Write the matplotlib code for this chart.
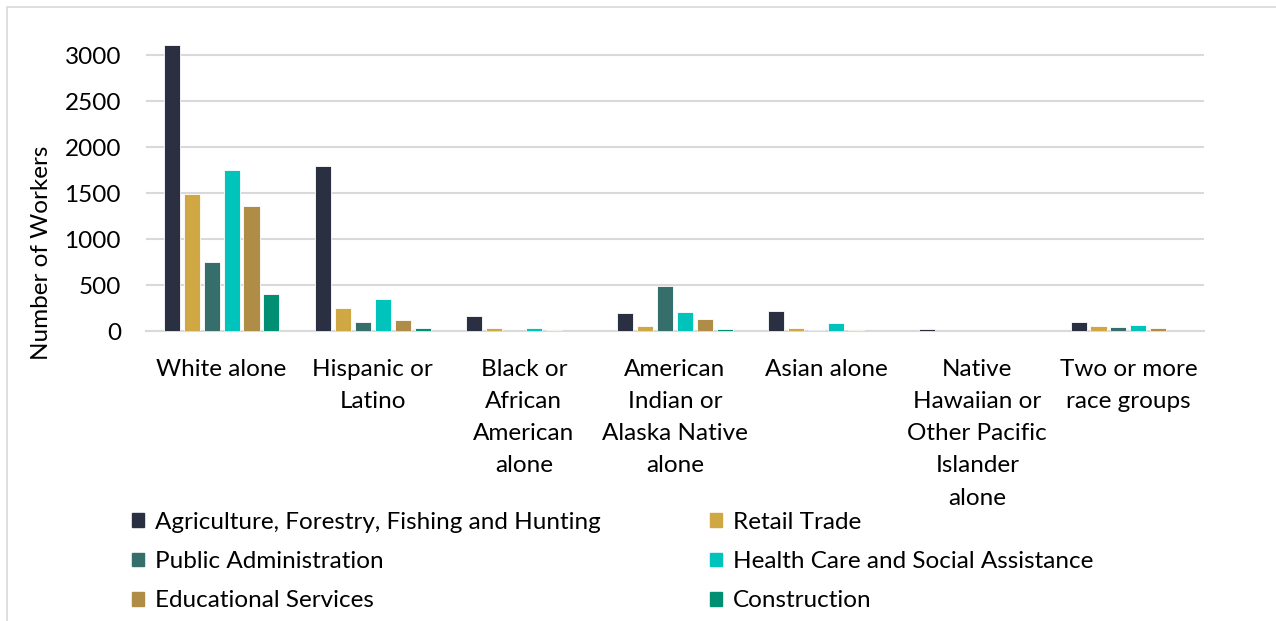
import matplotlib
matplotlib.use("Agg")
import matplotlib.pyplot as plt
import numpy as np
from matplotlib.patches import Rectangle, Patch

plt.rcParams['font.family'] = ['Lato', 'DejaVu Sans']

categories = ["White alone", "Hispanic or\nLatino", "Black or\nAfrican\nAmerican\nalone",
              "American\nIndian or\nAlaska Native\nalone", "Asian alone",
              "Native\nHawaiian or\nOther Pacific\nIslander\nalone", "Two or more\nrace groups"]
series_names = ["Agriculture, Forestry, Fishing and Hunting", "Retail Trade",
                "Public Administration", "Health Care and Social Assistance",
                "Educational Services", "Construction"]
agriculture = [3110, 1800, 167, 200, 218, 20, 100]
retail = [1490, 253, 30, 55, 38, 0, 53]
public_admin = [750, 100, 0, 490, 8, 0, 47]
health = [1750, 345, 37, 210, 85, 2, 70]
education = [1360, 125, 8, 128, 13, 0, 30]
construction = [400, 33, 0, 22, 2, 0, 0]
colors = ["#2B2F42", "#D0A843", "#356E6A", "#00C4BC", "#B08D47", "#008F73"]
yticks = [0, 500, 1000, 1500, 2000, 2500, 3000]

data = [agriculture, retail, public_admin, health, education, construction]
FS = 17.5

fig = plt.figure(figsize=(12.76, 6.21), dpi=100)
ax = fig.add_axes([146/1276, 1-331/621, (1204-146)/1276, (331-37)/621])

x = np.arange(len(categories))
slot = 0.132
width = 0.106
for i, (vals, c) in enumerate(zip(data, colors)):
    ax.bar(x + (i - 2.5) * slot, vals, width=width, color=c, edgecolor="white",
           linewidth=0.6, zorder=3)

ax.set_xlim(-0.5, len(categories) - 0.5)
ax.set_ylim(0, 3200)
ax.set_yticks(yticks)
ax.set_yticklabels([str(t) for t in yticks], fontsize=FS)
ax.set_xticks(x)
ax.set_xticklabels(categories, fontsize=FS, linespacing=1.66, va="top")
ax.tick_params(axis='both', length=0, colors="#000000")
ax.tick_params(axis='x', pad=20)
ax.tick_params(axis='y', pad=18)
ax.grid(axis='y', color="#D9D9D9", linewidth=1.5, zorder=0)
for s in ["top", "right", "left"]:
    ax.spines[s].set_visible(False)
ax.spines["bottom"].set_color("#D9D9D9")
ax.spines["bottom"].set_linewidth(1.5)
ax.set_ylabel("Number of Workers", fontsize=FS, va="center")
ax.yaxis.set_label_coords((42 - 146) / 1058, (331 - 253) / 294)

order = [0, 2, 4, 1, 3, 5]
handles = [Patch(facecolor=colors[i], edgecolor=colors[i]) for i in order]
labels = [series_names[i] for i in order]
fig.legend(handles, labels, ncol=2, loc="upper left",
           bbox_to_anchor=(110/1276, 1-490/621), frameon=False, fontsize=FS,
           handlelength=0.5, handleheight=0.5, handletextpad=0.45,
           columnspacing=4.5, labelspacing=0.75)

fig.patches.append(Rectangle((7/1276, -0.1), 1.2, 1 - 7/621 + 0.1,
                             transform=fig.transFigure, fill=False,
                             edgecolor="#D9D9D9", linewidth=1.2))

fig.savefig("out.png", dpi=100)
